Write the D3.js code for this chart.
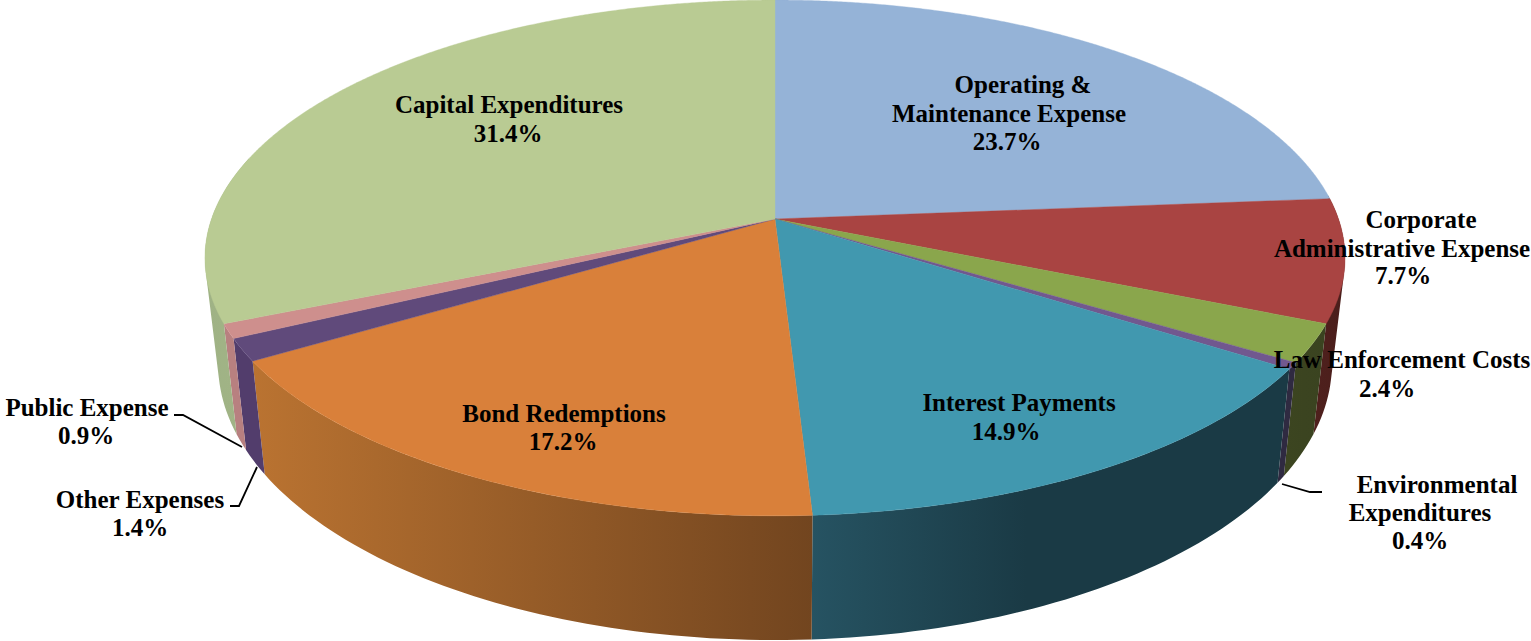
<!DOCTYPE html>
<html><head><meta charset="utf-8">
<script src="https://cdn.jsdelivr.net/npm/d3@7"></script>
<style>html,body{margin:0;padding:0;background:#fff}svg{display:block}text{font-family:"Liberation Serif",serif;font-weight:bold;font-size:25px;fill:#000;text-anchor:middle;dominant-baseline:central}</style>
</head><body><svg id="c" width="1531" height="641"></svg>
<script>
// Data, clockwise from 12 o'clock
const categories = ["Operating & Maintenance Expense","Corporate Administrative Expense","Law Enforcement Costs","Environmental Expenditures","Interest Payments","Bond Redemptions","Other Expenses","Public Expense","Capital Expenditures"];
const values = [23.7,7.7,2.4,0.4,14.9,17.2,1.4,0.9,31.4];
const labelLines = [["Operating &","Maintenance Expense"],["Corporate","Administrative Expense"],["Law Enforcement Costs"],["Environmental","Expenditures"],["Interest Payments"],["Bond Redemptions"],["Other Expenses"],["Public Expense"],["Capital Expenditures"]];
// Styles and layout
const topColors = ["#95b3d7","#a94442","#8aa64c","#71588f","#4198af","#d9803a","#604a7b","#ce8f8d","#b9cb93"];
const wallColors = [["#333","#333"],["#4f201d","#4a1e1b"],["#3c4520","#3a4320"],["#2f2a41","#2f2a41"],["#265362","#1a3a45"],["#ba7331","#72451f"],["#523d6c","#523d6c"],["#b88080","#b88080"],["#9fb285","#a2b586"]];
const labelPos = [[[1023,84],[1009,113],[1007,141]],[[1421,219],[1402,248],[1403,275]],[[1402,359],[1387,388]],[[1437,484],[1420,512],[1420,540]],[[1019,402],[1006,431]],[[564,413],[563,441]],[[140,499],[140,527]],[[87,407],[86,435]],[[509,104],[508,133]]];
const leaders = [[[174,415],[183,415],[242,447]],[[230,506],[239,506],[257,467]],[[1282,484],[1310,492],[1322,492]]];
const P=0.151, CX=775;
const project=(a,A,B,y0)=>{const u=Math.sin(a),v=-Math.cos(a),w=1-P*v;return [CX+A*u/w,y0+B*v/w];};
const topP=a=>project(a,563.5,252,219), botP=a=>project(a,550.5,270,322);
const svg=d3.select("#c"), defs=svg.append("defs");
const arcs=d3.pie().sort(null).value(d=>d)(values);
const line=d3.line();
const samples=(a0,a1,step)=>d3.range(0,1.0001,1/Math.max(2,Math.ceil((a1-a0)/step))).map(t=>a0+(a1-a0)*t);
const visMin=Math.PI*0.47, visMax=Math.PI*1.58;
// walls: one path per slice, swept quads with one winding so the silhouette fills without seams
arcs.forEach((d,i)=>{
  const a0=Math.max(d.startAngle,visMin), a1=Math.min(d.endAngle,visMax);
  if(a1<=a0) return;
  const s=samples(a0,a1,0.02);
  const xs=s.map(topP).concat(s.map(botP)).map(p=>p[0]);
  const id="w"+i, g=defs.append("linearGradient").attr("id",id).attr("gradientUnits","userSpaceOnUse")
    .attr("x1",d3.min(xs)).attr("x2",d3.max(xs)).attr("y1",0).attr("y2",0);
  g.append("stop").attr("offset",0).attr("stop-color",wallColors[i][0]);
  if(i===4) g.append("stop").attr("offset",0.45).attr("stop-color",wallColors[i][1]);
  g.append("stop").attr("offset",1).attr("stop-color",wallColors[i][1]);
  const dstr=d3.pairs(s).map(([p,q])=>{
    const quad=[topP(p),topP(q),botP(q),botP(p)];
    if(d3.polygonArea(quad)<0) quad.reverse();
    return line(quad)+"Z";
  }).join("");
  svg.append("path").attr("d",dstr).attr("fill",`url(#${id})`);
});
// top faces
arcs.forEach((d,i)=>{
  const pts=[[CX,219]].concat(samples(d.startAngle,d.endAngle,0.005).map(topP));
  svg.append("path").attr("d",line(pts)+"Z").attr("fill",topColors[i]).attr("stroke",topColors[i]).attr("stroke-width",0.4);
});
// leaders
leaders.forEach(l=>svg.append("path").attr("d",line(l)).attr("fill","none").attr("stroke","#000").attr("stroke-width",1.8));
// labels
arcs.forEach((d,i)=>{
  const lines=labelLines[i].concat([d3.format(".1f")(d.value)+"%"]);
  lines.forEach((t,k)=>svg.append("text").attr("x",labelPos[i][k][0]).attr("y",labelPos[i][k][1]).text(t));
});
</script></body></html>
